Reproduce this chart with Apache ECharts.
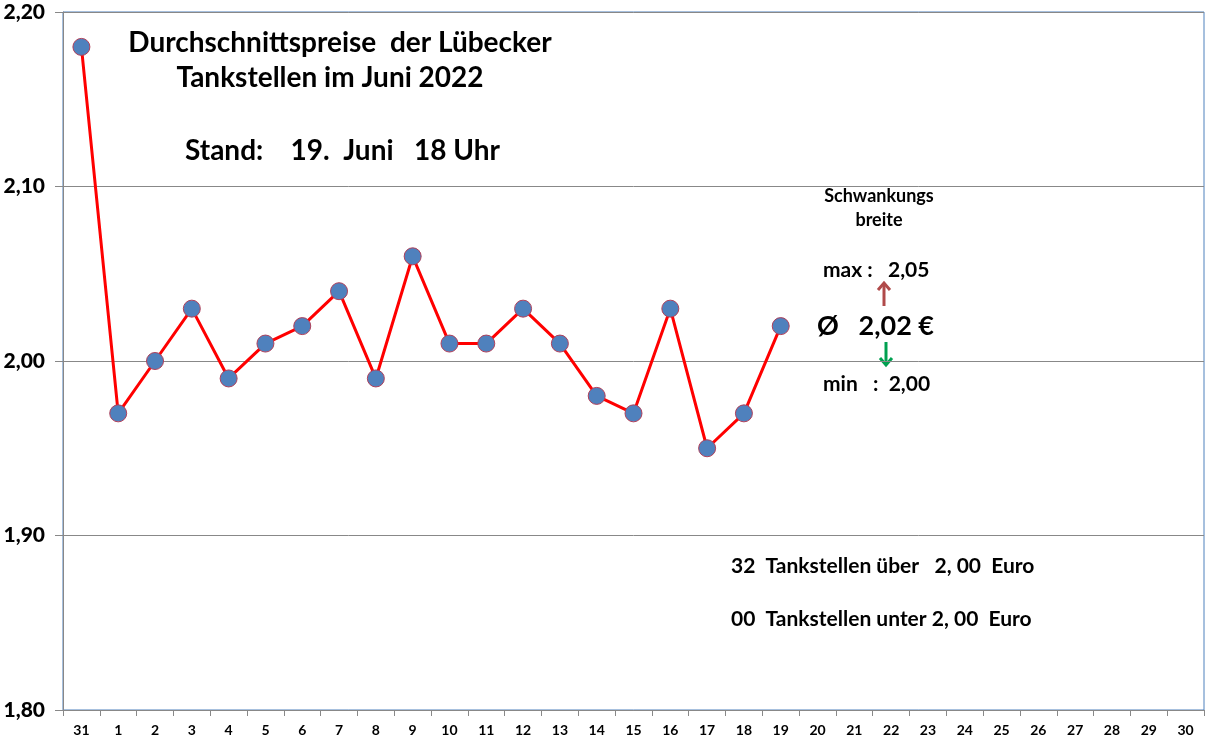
<!DOCTYPE html>
<html>
<head>
<meta charset="utf-8">
<script src="https://cdn.jsdelivr.net/npm/echarts@6/dist/echarts.min.js"></script>
<style>html,body{margin:0;padding:0;background:#fff}#c{width:1207px;height:755px}</style>
</head>
<body>
<div id="c"></div>
<script>
const categories = ['31','1','2','3','4','5','6','7','8','9','10','11','12','13','14','15','16','17','18','19','20','21','22','23','24','25','26','27','28','29','30'];
const prices = [2.18,1.97,2.00,2.03,1.99,2.01,2.02,2.04,1.99,2.06,2.01,2.01,2.03,2.01,1.98,1.97,2.03,1.95,1.97,2.02];
const yTicks = {min:1.8, max:2.2, interval:0.1};
const titleLines = ['Durchschnittspreise  der Lübecker','Tankstellen im Juni 2022'];
const standText = 'Stand:    19.  Juni   18 Uhr';
const rangeTexts = {head:'Schwankungs\nbreite', max:'max :   2,05', avg:'Ø   2,02 €', min:'min   :  2,00'};
const countTexts = ['32  Tankstellen über   2, 00  Euro','00  Tankstellen unter 2, 00  Euro'];

const F = 'Lato, "Open Sans", sans-serif';
const chart = echarts.init(document.getElementById('c'), null, {renderer:'canvas'});
chart.setOption({
  animation:false,
  backgroundColor:'#fff',
  grid:{left:63, right:3, top:12, bottom:45, show:true, borderColor:'#4F81BD', borderWidth:1},
  xAxis:{
    type:'category', data:categories, boundaryGap:true,
    axisLine:{lineStyle:{color:'#888', width:1}},
    axisTick:{show:true, alignWithLabel:false, length:6, lineStyle:{color:'#888'}},
    axisLabel:{color:'#000', fontFamily:F, fontWeight:'bold', fontSize:14, margin:13, interval:0}
  },
  yAxis:{
    type:'value', min:yTicks.min, max:yTicks.max, interval:yTicks.interval,
    axisLine:{show:true, lineStyle:{color:'#888', width:1}},
    axisTick:{show:true, length:8, lineStyle:{color:'#888'}},
    splitLine:{lineStyle:{color:'#888', width:1}},
    axisLabel:{color:'#000', fontFamily:F, fontWeight:900, fontSize:21, margin:18,
      formatter:v=>v.toFixed(2).replace('.',',')}
  },
  series:[{
    type:'line', data:prices, symbol:'circle', symbolSize:17,
    lineStyle:{color:'#FF0000', width:3},
    itemStyle:{color:'#4F81BD', borderColor:'#B0405A', borderWidth:1},
    z:3
  }],
  graphic:[
    {type:'text', x:340, y:43, style:{text:titleLines[0], font:'bold 28px '+F, fill:'#000', textAlign:'center', textVerticalAlign:'middle'}},
    {type:'text', x:330, y:78, style:{text:titleLines[1], font:'bold 28px '+F, fill:'#000', textAlign:'center', textVerticalAlign:'middle'}},
    {type:'text', x:185, y:151, style:{text:standText, font:'bold 28px '+F, fill:'#000', textAlign:'left', textVerticalAlign:'middle'}},
    {type:'text', x:879, y:208, style:{text:rangeTexts.head, font:'bold 18px '+F, fill:'#000', textAlign:'center', textVerticalAlign:'middle', lineHeight:24}},
    {type:'text', x:823, y:270, style:{text:rangeTexts.max, font:'bold 21px '+F, fill:'#000', textAlign:'left', textVerticalAlign:'middle'}},
    {type:'text', x:817, y:326, style:{text:rangeTexts.avg, font:'bold 27px '+F, fill:'#000', textAlign:'left', textVerticalAlign:'middle'}},
    {type:'text', x:823, y:384, style:{text:rangeTexts.min, font:'bold 21px '+F, fill:'#000', textAlign:'left', textVerticalAlign:'middle'}},
    {type:'polyline', shape:{points:[[884,306],[884,283]]}, style:{stroke:'#B04A4A', lineWidth:3}},
    {type:'polyline', shape:{points:[[878,290],[884,283],[890,290]]}, style:{stroke:'#B04A4A', lineWidth:3, fill:null}},
    {type:'polyline', shape:{points:[[886,342],[886,365]]}, style:{stroke:'#00A050', lineWidth:3}},
    {type:'polyline', shape:{points:[[880,358],[886,365],[892,358]]}, style:{stroke:'#00A050', lineWidth:3, fill:null}},
    {type:'text', x:731, y:566, style:{text:countTexts[0], font:'bold 21px '+F, fill:'#000', textAlign:'left', textVerticalAlign:'middle'}},
    {type:'text', x:731, y:619, style:{text:countTexts[1], font:'bold 21px '+F, fill:'#000', textAlign:'left', textVerticalAlign:'middle'}}
  ]
});
</script>
</body>
</html>
